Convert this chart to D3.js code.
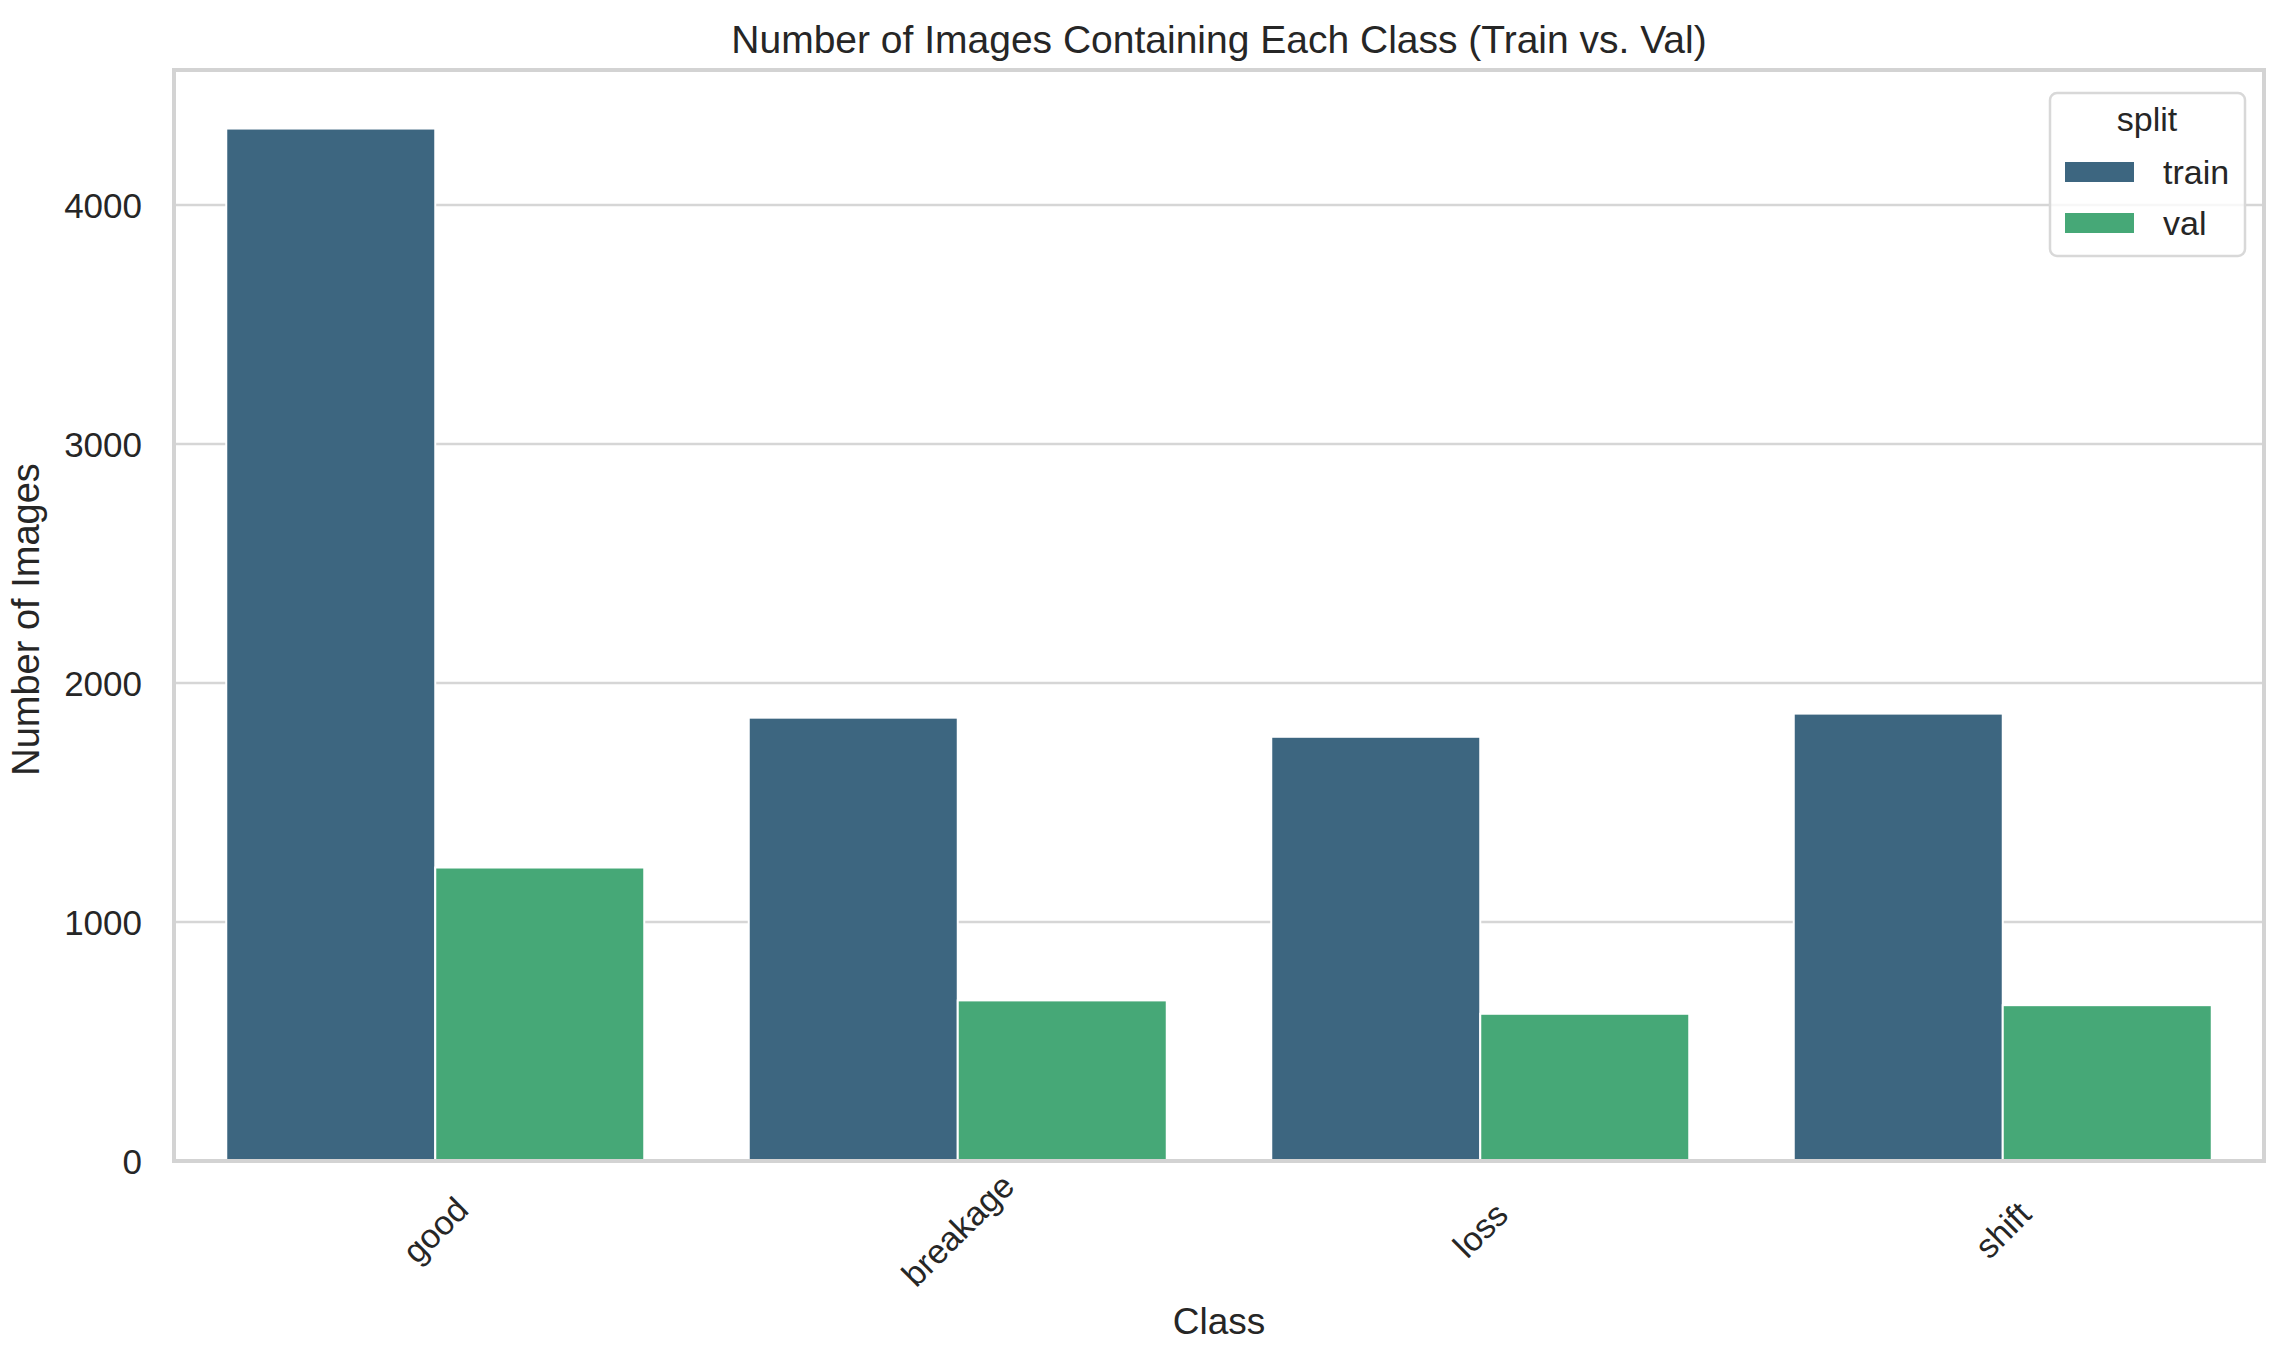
<!DOCTYPE html>
<html>
<head>
	<meta charset="utf-8">
	<style>
		body {
			margin: 0;
			background-color: white;
			font-family: "Liberation Sans", Arial, Helvetica, sans-serif;
		}
		svg {
			display: block;
		}
		.grid line {
			stroke: #d6d6d6;
			stroke-width: 2.5px;
		}
		.frame {
			fill: none;
			stroke: #d3d3d3;
			stroke-width: 4px;
		}
		.tick-label, .axis-label, .title, .legend text {
			fill: #262626;
		}
		.bar {
			stroke: white;
			stroke-width: 2px;
		}
	</style>
</head>
<body>
<script src="https://cdn.jsdelivr.net/npm/d3@7"></script>

<script>
	// data
	var classes = ["good", "breakage", "loss", "shift"];
	var splits = ["train", "val"];
	var trainCounts = [4320, 1855, 1775, 1872];
	var valCounts = [1228, 672, 616, 652];
	var yTicks = [0, 1000, 2000, 3000, 4000];
	var splitColors = ["#3d6680", "#46a877"];

	var width = 2284,
		height = 1353,
		margin = {top: 70, right: 20, bottom: 192, left: 174};

	var rows = [];
	classes.forEach(function(c, i) {
		rows.push({cls: c, split: "train", value: trainCounts[i]});
		rows.push({cls: c, split: "val", value: valCounts[i]});
	});

	var svg = d3.select("body").append("svg")
			.attr("width", width)
			.attr("height", height);

	var x0 = d3.scaleBand()
			.domain(classes)
			.range([margin.left, width - margin.right])
			.paddingInner(0.2)
			.paddingOuter(0.1);
	var x1 = d3.scaleBand()
			.domain(splits)
			.range([0, x0.bandwidth()]);
	var y = d3.scaleLinear()
			.domain([0, 4565])
			.range([height - margin.bottom, margin.top]);
	var color = d3.scaleOrdinal()
			.domain(splits)
			.range(splitColors);

	var plotLeft = margin.left,
		plotRight = width - margin.right,
		plotTop = margin.top,
		plotBottom = height - margin.bottom;

	// horizontal grid
	svg.append("g")
			.attr("class", "grid")
		.selectAll("line")
			.data(yTicks)
		.enter().append("line")
			.attr("x1", plotLeft)
			.attr("x2", plotRight)
			.attr("y1", function(d) { return y(d); })
			.attr("y2", function(d) { return y(d); });

	// bars
	svg.append("g")
		.selectAll("rect")
			.data(rows)
		.enter().append("rect")
			.attr("class", "bar")
			.attr("x", function(d) { return x0(d.cls) + x1(d.split); })
			.attr("y", function(d) { return y(d.value); })
			.attr("width", x1.bandwidth())
			.attr("height", function(d) { return y(0) - y(d.value); })
			.attr("fill", function(d) { return color(d.split); });

	// frame
	svg.append("rect")
			.attr("class", "frame")
			.attr("x", plotLeft)
			.attr("y", plotTop)
			.attr("width", plotRight - plotLeft)
			.attr("height", plotBottom - plotTop);

	// y axis via d3 axis, restyled
	var yAxis = svg.append("g")
			.attr("transform", "translate(" + (plotLeft - 32) + ",0)")
			.call(d3.axisLeft(y).tickValues(yTicks).tickFormat(d3.format("d")).tickSize(0).tickPadding(0));
	yAxis.select(".domain").remove();
	yAxis.selectAll("text")
			.attr("class", "tick-label")
			.attr("font-size", 35)
			.attr("font-family", "Liberation Sans, Arial, sans-serif")
			.attr("dy", "0.35em");

	// x tick labels rotated 45
	var xLabelY = 1230;
	svg.append("g")
		.selectAll("text")
			.data(classes)
		.enter().append("text")
			.attr("class", "tick-label")
			.attr("font-size", 34)
			.attr("text-anchor", "middle")
			.attr("dy", "0.35em")
			.attr("transform", function(d) {
				return "translate(" + (x0(d) + x0.bandwidth() / 2) + "," + xLabelY + ") rotate(-45)";
			})
			.text(function(d) { return d; });

	// axis labels
	svg.append("text")
			.attr("class", "axis-label")
			.attr("font-size", 37)
			.attr("text-anchor", "middle")
			.attr("x", (plotLeft + plotRight) / 2)
			.attr("y", 1321)
			.attr("dy", "0.35em")
			.text("Class");
	svg.append("text")
			.attr("class", "axis-label")
			.attr("font-size", 38)
			.attr("text-anchor", "middle")
			.attr("transform", "translate(26," + ((plotTop + plotBottom) / 2 + 4) + ") rotate(-90)")
			.attr("dy", "0.35em")
			.text("Number of Images");

	// title
	svg.append("text")
			.attr("class", "title")
			.attr("font-size", 39)
			.attr("text-anchor", "middle")
			.attr("x", (plotLeft + plotRight) / 2)
			.attr("y", 39)
			.attr("dy", "0.35em")
			.text("Number of Images Containing Each Class (Train vs. Val)");

	// legend
	var legend = svg.append("g")
			.attr("class", "legend")
			.attr("transform", "translate(2050,93)");
	legend.append("rect")
			.attr("width", 195)
			.attr("height", 163)
			.attr("rx", 7)
			.attr("fill", "rgba(255,255,255,0.8)")
			.attr("stroke", "#d8d8d8")
			.attr("stroke-width", 2.5);
	legend.append("text")
			.attr("x", 97)
			.attr("y", 26)
			.attr("dy", "0.35em")
			.attr("text-anchor", "middle")
			.attr("font-size", 34)
			.text("split");
	var items = legend.selectAll(".item")
			.data(splits)
		.enter().append("g")
			.attr("class", "item")
			.attr("transform", function(d, i) { return "translate(15," + (69 + i * 51) + ")"; });
	items.append("rect")
			.attr("width", 69)
			.attr("height", 20)
			.attr("fill", function(d) { return color(d); });
	items.append("text")
			.attr("x", 98)
			.attr("y", 10)
			.attr("dy", "0.35em")
			.attr("font-size", 34)
			.text(function(d) { return d; });
</script>
</body>
</html>
